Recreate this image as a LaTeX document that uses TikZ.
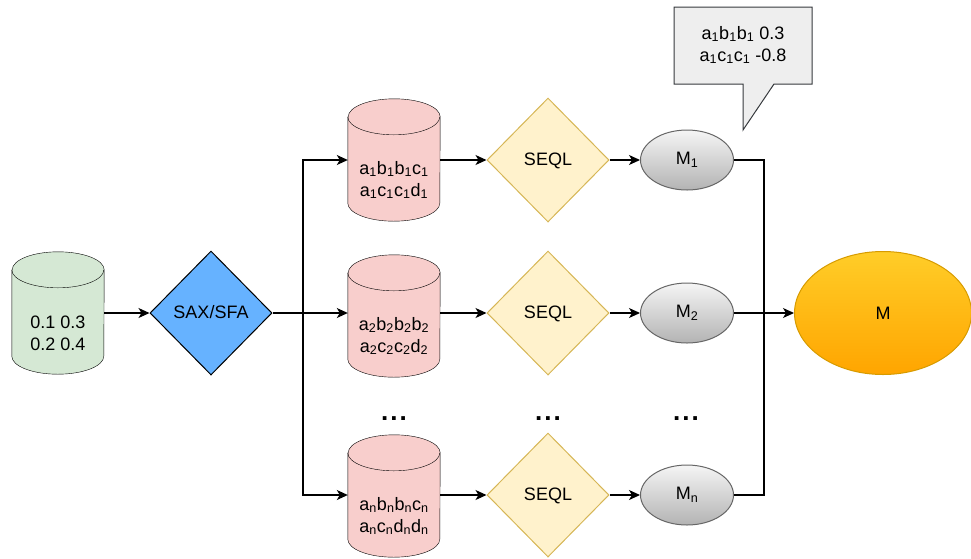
\documentclass[tikz,border=0pt]{standalone}
\usepackage{fontspec}
\setmainfont{Liberation Sans}
\usepackage{xcolor}
\usetikzlibrary{shapes.geometric,arrows.meta,positioning,backgrounds}

\definecolor{dbgreen}{HTML}{D5E8D4}
\definecolor{dbgreenline}{HTML}{82B366}
\definecolor{dbred}{HTML}{F8CECC}
\definecolor{dbredline}{HTML}{B85450}
\definecolor{saxblue}{HTML}{66B2FF}
\definecolor{seqlfill}{HTML}{FFF2CC}
\definecolor{seqlline}{HTML}{D6B656}
\definecolor{modeltop}{HTML}{F5F5F5}
\definecolor{modelbot}{HTML}{B3B3B3}
\definecolor{modelline}{HTML}{666666}
\definecolor{finaltop}{HTML}{FFCD28}
\definecolor{finalbot}{HTML}{FFA500}
\definecolor{finalline}{HTML}{D79B00}
\definecolor{notefill}{HTML}{EEEEEE}
\definecolor{noteline}{HTML}{36393D}

\newcommand{\ix}[1]{\textsubscript{#1}}
% cylinder drawn behind a named node: name, fill, stroke
\newcommand{\drum}[3]{%
  \begin{scope}[on background layer, line width=1pt, draw=#3]
    \filldraw[fill=#2] ([yshift=-18pt]#1.north west) -- ([yshift=18pt]#1.south west)
      arc[start angle=180, end angle=360, x radius=46pt, y radius=18pt]
      -- ([yshift=-18pt]#1.north east)
      arc[start angle=0, end angle=180, x radius=46pt, y radius=18pt] -- cycle;
    \draw ([yshift=-18pt]#1.north west)
      arc[start angle=180, end angle=360, x radius=46pt, y radius=18pt];
  \end{scope}}

\tikzset{
  db/.style={rectangle, minimum width=92pt, minimum height=122pt, inner sep=0pt},
  dbtext/.style={yshift=-20pt, align=center},
  rhombus/.style={diamond, draw, line width=1pt, inner sep=0pt, aspect=1,
    minimum width=122pt, minimum height=124pt, text depth=2pt},
  model/.style={ellipse, draw=modelline, line width=1pt, top color=modeltop,
    bottom color=modelbot, minimum width=93pt, minimum height=60pt, inner sep=0pt},
  flow/.style={-{Stealth[length=11pt,width=10pt,inset=3pt]}, line width=1.2pt},
  link/.style={line width=1.2pt},
  dots/.style={font=\fontsize{26}{26}\selectfont\bfseries}
}

\begin{document}
\begin{tikzpicture}[x=1pt, y=-1pt, font=\fontsize{18}{22}\selectfont]
    \useasboundingbox (0,0) rectangle (971,558);

    % Raw series and discretisation
    \node[db, label={[dbtext]center:0.1 0.3\\0.2 0.4}] (raw) at (58,313) {};
    \drum{raw}{dbgreen}{dbgreenline}
    \node[rhombus, fill=saxblue] (sax) at (211,313) {SAX/SFA};
    \draw[flow] (raw) -- (sax);

    % Symbolic representations
    \node[db, label={[dbtext]center:a\ix1b\ix1b\ix1c\ix1\\a\ix1c\ix1c\ix1d\ix1}] (db1) at (394,160) {};
    \node[db, label={[dbtext]center:a\ix2b\ix2b\ix2b\ix2\\a\ix2c\ix2c\ix2d\ix2}] (db2) at (394,316) {};
    \node[db, label={[dbtext]center:a\ix nb\ix nb\ix nc\ix n\\a\ix nc\ix nd\ix nd\ix n}] (dbn) at (394,496) {};
    \drum{db1}{dbred}{dbredline}
    \drum{db2}{dbred}{dbredline}
    \drum{dbn}{dbred}{dbredline}

    \coordinate (split) at (303,313);
    \draw[link] (sax) -- (split);
    \draw[flow] (split) |- (db1.west |- 0,160);
    \draw[flow] (split) -- (db2.west |- split);
    \draw[flow] (split) |- (dbn.west |- 0,495);

    % SEQL learners
    \node[rhombus, fill=seqlfill, draw=seqlline] (seql1) at (548,160) {SEQL};
    \node[rhombus, fill=seqlfill, draw=seqlline] (seql2) at (548,313) {SEQL};
    \node[rhombus, fill=seqlfill, draw=seqlline] (seqln) at (548,495) {SEQL};
    \draw[flow] (db1.east |- seql1) -- (seql1);
    \draw[flow] (db2.east |- seql2) -- (seql2);
    \draw[flow] (dbn.east |- seqln) -- (seqln);

    % Models
    \node[model] (m1) at (687,160) {M\ix1};
    \node[model] (m2) at (687,313) {M\ix2};
    \node[model] (mn) at (687,495) {M\ix n};
    \draw[flow] (seql1) -- (m1);
    \draw[flow] (seql2) -- (m2);
    \draw[flow] (seqln) -- (mn);

    % Ensemble
    \node[ellipse, draw=finalline, line width=1pt, top color=finaltop,
      bottom color=finalbot, minimum width=177pt, minimum height=123pt] (final) at (883,313) {M};
    \coordinate (join) at (764,313);
    \draw[link] (m1) -| (join);
    \draw[link] (mn) -| (join);
    \draw[flow] (m2) -- (final);

    % Callout with learned features
    \draw[line width=1pt, draw=noteline, fill=notefill]
      (674,7) -| (812,84) -- (774,84) -- (743,130) -- (743,84) -| cycle;
    \node[align=center] (note) at (743,45) {a\ix1b\ix1b\ix1 0.3\\a\ix1c\ix1c\ix1 -0.8};

    % Omitted branches
    \node[dots] (dots1) at (394,419) {.\kern2pt.\kern2pt.};
    \node[dots] (dots2) at (548,419) {.\kern2pt.\kern2pt.};
    \node[dots] (dots3) at (686,419) {.\kern2pt.\kern2pt.};
\end{tikzpicture}
\end{document}
